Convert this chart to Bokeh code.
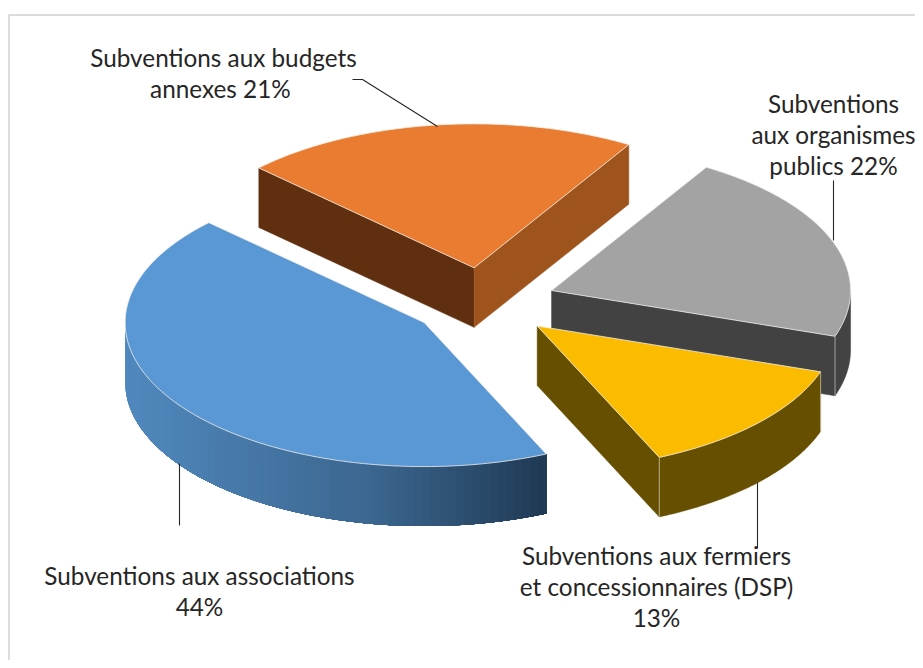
import numpy as np
from bokeh.plotting import figure
from bokeh.models import Range1d
from bokeh.core.properties import value
from bokeh.embed import file_html
from bokeh.resources import INLINE

# --- data ---
categories = ["associations", "budgets annexes", "organismes publics", "fermiers et concessionnaires"]
shares = [43.9, 21.45, 21.5, 13.15]          # slice sizes
top_colors = ["#5998d5", "#e97c30", "#a3a3a3", "#fbbc00"]
label_lines = [
    ["Subventions aux associations", "44%"],
    ["Subventions aux budgets", "annexes  21%"],
    ["Subventions", "aux organismes", "publics 22%"],
    ["Subventions aux fermiers", "et concessionnaires (DSP)", "13%"],
]
label_x = [199, 223, 833, 656]
label_y = [575, 57, 103, 555]
line_step = 31
leaders_x = [[179, 179], [352, 362, 437], [833, 833], [757, 757]]
leaders_y = [[463, 525], [79, 79, 126], [180, 240], [482, 548]]

# --- pie geometry (picture pixels) ---
CX, CY = 483.0, 302.0
RX, RY = 299.0, 144.0
DEPTH = 59.5
EXPLODE = 0.2425
START_DEG = 65.9   # clockwise on screen, start of the first slice

p = figure(width=915, height=660, output_backend="svg", toolbar_location=None,
           x_range=Range1d(0, 915), y_range=Range1d(660, 0), min_border=0,
           background_fill_color="white", border_fill_color="white")
p.axis.visible = False
p.grid.visible = False
p.outline_line_color = None

# chart frame
p.line([8.5, 8.5, 915], [660, 14.5, 14.5], line_color="#d0d0d0", line_width=1.5)

ends = np.cumsum(shares) / np.sum(shares) * 2 * np.pi
starts = np.r_[0, ends[:-1]]
t0s = np.radians(START_DEG) + starts
t1s = np.radians(START_DEG) + ends

def apex(i):
    m = (t0s[i] + t1s[i]) / 2
    return CX + EXPLODE * RX * np.cos(m), CY + EXPLODE * RY * np.sin(m)

def rim(i, t):
    ax, ay = apex(i)
    return ax + RX * np.cos(t), ay + RY * np.sin(t)

def face(i, t, color):
    ax, ay = apex(i)
    ex, ey = rim(i, t)
    p.patch([ax, ex, ex, ax], [ay, ey, ey + DEPTH, ay + DEPTH], fill_color=color,
            line_color=color, line_width=0.5)

def wall_poly(i, lo, hi):
    ts = np.linspace(lo, hi, 80)
    xs, ys = rim(i, ts)
    return np.r_[xs, xs[::-1]], np.r_[ys, (ys + DEPTH)[::-1]]

def wall(i, lo, hi, color):
    xs, ys = wall_poly(i, lo, hi)
    p.patch(xs, ys, fill_color=color, line_color=color, line_width=0.5)

def grad_wall(i, lo, hi, colorf, steps=70):
    # painter's order: each step covers the rest of the wall, so no seams appear
    for t in np.linspace(hi, lo, steps, endpoint=False):
        xs, ys = wall_poly(i, lo, t)
        c = colorf(rim(i, t)[0])
        p.patch(xs, ys, fill_color=c, line_color=None)

def top(i):
    ts = np.linspace(t0s[i], t1s[i], 160)
    xs, ys = rim(i, ts)
    ax, ay = apex(i)
    p.patch(np.r_[ax, xs], np.r_[ay, ys], fill_color=top_colors[i],
            line_color="#f3efe6", line_alpha=0.8, line_width=1)

def corner(i, t):
    x, y = rim(i, t)
    p.line([x, x], [y, y + DEPTH], line_color="#e8e4d8", line_alpha=0.6, line_width=1)

def blue_grad(x):
    stops_x = [126, 370, 547]
    r = np.interp(x, stops_x, [0x51, 0x3b, 0x1f])
    g = np.interp(x, stops_x, [0x89, 0x66, 0x38])
    b = np.interp(x, stops_x, [0xbe, 0x8f, 0x52])
    return "#%02x%02x%02x" % (int(r), int(g), int(b))

# orange (back)
face(1, t0s[1], "#5f2f10")
face(1, t1s[1], "#a0541d")
top(1)
# gray
face(2, t1s[2], "#424242")
wall(2, 2 * np.pi, t1s[2], "#434343")
corner(2, t1s[2])
top(2)
# yellow
wall(3, t0s[3], t1s[3], "#664f00")
face(3, t1s[3], "#664f00")
corner(3, t0s[3])
corner(3, t1s[3])
top(3)
# blue
grad_wall(0, t0s[0], np.pi, blue_grad)
top(0)

# leader lines
for xs, ys in zip(leaders_x, leaders_y):
    p.line(xs, ys, line_color="#262626", line_width=1.1)

# labels
for lines, x, y in zip(label_lines, label_x, label_y):
    for k, s in enumerate(lines):
        p.text([x], [y + k * line_step], text=[s], text_align="center", text_baseline="middle",
               text_font=value("Lato"), text_font_size="24.3px", text_color="#262626")

open("out.html", "w").write(file_html(p, INLINE))
